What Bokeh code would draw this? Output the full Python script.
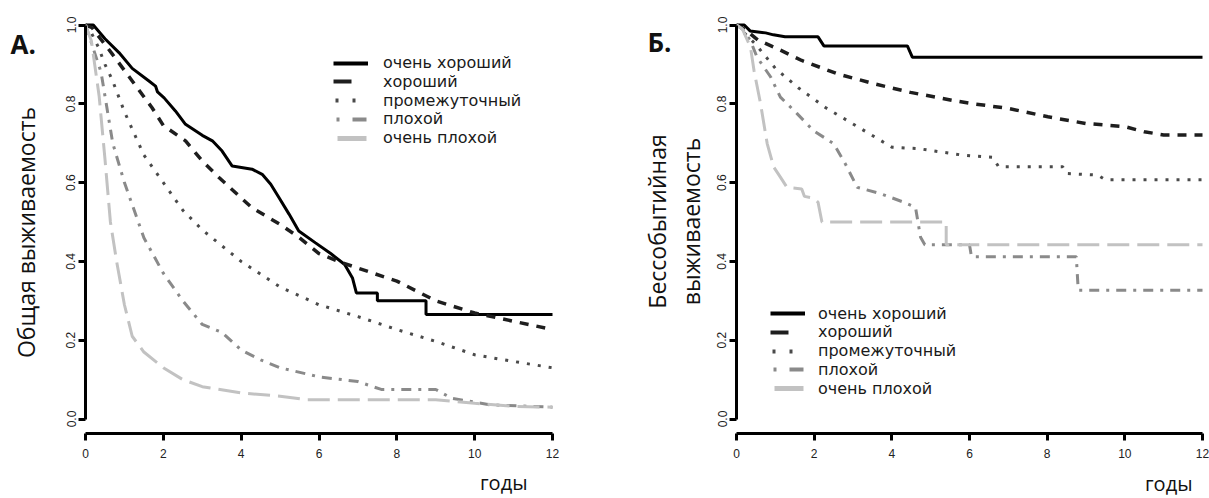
import math
from bokeh.plotting import figure
from bokeh.layouts import row
from bokeh.models import Range1d, FixedTicker, PrintfTickFormatter, Label, Legend, LegendItem
from bokeh.embed import file_html
from bokeh.resources import INLINE

# ---------------- data ----------------
groups = ["очень хороший", "хороший", "промежуточный", "плохой", "очень плохой"]
x_ticks = [0, 2, 4, 6, 8, 10, 12]
y_ticks = [0.0, 0.2, 0.4, 0.6, 0.8, 1.0]

# Panel A: overall survival
os_vgood_t = [0, 0.2, 0.5, 0.86, 1.2, 1.63, 1.8, 1.85, 2.02, 2.31, 2.57, 3.0, 3.26, 3.51, 3.77, 4.28, 4.54, 4.76,
              4.97, 5.23, 5.48, 5.91, 6.3, 6.66, 6.86, 6.96, 7.5, 7.5, 8.75, 8.75, 12.0]
os_vgood_s = [1.0, 1.0, 0.965, 0.93, 0.89, 0.858, 0.845, 0.83, 0.815, 0.782, 0.748, 0.72, 0.706, 0.68, 0.642, 0.634,
              0.621, 0.596, 0.562, 0.52, 0.477, 0.447, 0.42, 0.392, 0.358, 0.32, 0.32, 0.30, 0.30, 0.265, 0.265]
os_good_t = [0, 0.17, 0.69, 1.2, 1.71, 2.0, 2.57, 3.0, 3.43, 4.0, 4.28, 5.0, 5.5, 6.0, 6.5, 7.0, 8.0, 9.0, 10.0,
             11.0, 12.0]
os_good_s = [1.0, 0.993, 0.926, 0.858, 0.79, 0.745, 0.706, 0.655, 0.613, 0.561, 0.536, 0.494, 0.46, 0.42, 0.40,
             0.383, 0.35, 0.30, 0.269, 0.248, 0.227]
os_inter_t = [0, 0.15, 0.34, 0.5, 0.69, 1.0, 1.5, 2.0, 2.5, 3.0, 4.0, 5.0, 6.0, 7.0, 8.0, 9.0, 10.0, 11.0, 12.0]
os_inter_s = [1.0, 0.98, 0.942, 0.9, 0.86, 0.78, 0.67, 0.60, 0.53, 0.48, 0.40, 0.335, 0.29, 0.26, 0.227, 0.197,
              0.163, 0.146, 0.13]
os_poor_t = [0, 0.1, 0.4, 0.7, 1.0, 1.5, 2.0, 2.5, 3.0, 3.5, 4.0, 4.5, 5.0, 6.0, 7.0, 7.6, 9.0, 9.4, 10.4, 12.0]
os_poor_s = [1.0, 0.97, 0.88, 0.70, 0.60, 0.46, 0.37, 0.30, 0.24, 0.22, 0.175, 0.15, 0.13, 0.107, 0.095, 0.075,
             0.075, 0.053, 0.036, 0.03]
os_vpoor_t = [0, 0.15, 0.35, 0.5, 0.64, 0.8, 1.0, 1.2, 1.5, 2.0, 2.5, 3.0, 4.0, 5.0, 5.7, 9.0, 10.0, 11.0, 12.0]
os_vpoor_s = [1.0, 0.96, 0.82, 0.66, 0.5, 0.4, 0.29, 0.21, 0.17, 0.13, 0.1, 0.082, 0.066, 0.058, 0.049, 0.049,
              0.04, 0.032, 0.03]

# Panel B: event-free survival
efs_vgood_t = [0, 0.2, 0.35, 0.75, 0.95, 1.25, 2.1, 2.25, 4.4, 4.53, 12.0]
efs_vgood_s = [1.0, 1.0, 0.985, 0.98, 0.975, 0.97, 0.97, 0.947, 0.947, 0.918, 0.918]
efs_good_t = [0, 0.2, 0.55, 1.05, 1.68, 2.6, 3.54, 4.48, 5.6, 6.03, 7.02, 8.02, 9.0, 10.0, 10.5, 11.0, 12.0]
efs_good_s = [1.0, 0.99, 0.962, 0.94, 0.91, 0.876, 0.851, 0.829, 0.808, 0.801, 0.788, 0.767, 0.75, 0.742, 0.729,
              0.721, 0.721]
efs_inter_t = [0, 0.2, 0.5, 1.0, 1.6, 2.3, 3.15, 4.0, 4.7, 5.8, 6.6, 6.75, 8.4, 8.5, 9.3, 9.5, 12.0]
efs_inter_s = [1.0, 0.98, 0.95, 0.89, 0.84, 0.79, 0.74, 0.69, 0.686, 0.67, 0.664, 0.64, 0.64, 0.623, 0.619, 0.607,
               0.607]
efs_poor_t = [0, 0.15, 0.36, 0.53, 0.88, 1.13, 1.56, 1.98, 2.5, 2.8, 3.11, 3.71, 4.31, 4.61, 4.74, 4.85, 6.0, 6.05,
              8.75, 8.8, 12.0]
efs_poor_s = [1.0, 0.99, 0.96, 0.918, 0.868, 0.817, 0.775, 0.732, 0.699, 0.648, 0.588, 0.572, 0.55, 0.537, 0.461,
              0.442, 0.442, 0.412, 0.412, 0.327, 0.327]
efs_vpoor_t = [0, 0.15, 0.36, 0.45, 0.62, 0.79, 0.96, 1.13, 1.3, 1.68, 1.75, 2.0, 2.1, 2.2, 5.4, 5.4, 12.0]
efs_vpoor_s = [1.0, 0.99, 0.944, 0.885, 0.8, 0.699, 0.639, 0.614, 0.588, 0.584, 0.565, 0.56, 0.55, 0.5, 0.5, 0.442,
               0.442]

# ---------------- styles / layout ----------------
colors = ["#000000", "#1e1e1e", "#4a4a4a", "#8a8a8a", "#c2c2c2"]
dashes = ["solid", "9 8", "3 8", "10 7 3 7", "22 8"]
widths = [3, 3.5, 3, 3, 3]
leg_dashes = ["solid", "18 20", "3 14", "3 13 14 30", "29 20"]
leg_offsets = [0, 0, 15, 57, 45]
leg_widths = [4, 4, 4, 4, 5]

FONT = "Open Sans"
LEG_FONT = "DejaVu Sans"
TICK_FONT = "Liberation Sans"
H = 498
PX_Y = 394.0          # pixels per survival unit
Y_TOP = 24.5          # pixel row of survival 1.0
XAXIS_ROW = 433.0     # pixel row of the detached x axis
LEG_PITCH = 18.8      # legend row pitch in pixels
LEG_ITEM_H = 19.0     # rendered height of one legend item
NAN = float("nan")


def make_panel(width, x0_px, plot_w_px, series, legend_x, legend_first_row, legend_standoff):
    px_x = plot_w_px / 12.0
    x_rng = Range1d(-x0_px / px_x, (width - x0_px) / px_x)
    y_rng = Range1d(1 - (H - Y_TOP) / PX_Y, 1 + Y_TOP / PX_Y)
    p = figure(width=width, height=H, output_backend="svg", toolbar_location=None,
               x_range=x_rng, y_range=y_rng, min_border=0)
    p.outline_line_color = None
    p.grid.grid_line_color = None
    p.background_fill_color = "white"
    p.border_fill_color = "white"
    for ax, ticks, bounds in ((p.xaxis[0], x_ticks, (0, 12)), (p.yaxis[0], y_ticks, (0, 1))):
        ax.ticker = FixedTicker(ticks=ticks)
        ax.bounds = bounds
        ax.axis_line_width = 3
        ax.axis_line_color = "black"
        ax.major_tick_line_width = 3
        ax.major_tick_line_color = "black"
        ax.major_tick_out = 7
        ax.major_tick_in = 0
        ax.minor_tick_line_color = None
        ax.major_label_text_font = TICK_FONT
        ax.major_label_text_font_size = "12px"
        ax.major_label_text_color = "#222222"
    p.yaxis[0].fixed_location = 0
    p.xaxis[0].fixed_location = 1 - (XAXIS_ROW - Y_TOP) / PX_Y
    p.xaxis[0].major_label_standoff = 8
    p.yaxis[0].major_label_standoff = 3
    p.yaxis[0].major_label_orientation = "vertical"
    p.yaxis[0].formatter = PrintfTickFormatter(format="%.1f")

    for i, (t, s) in enumerate(series):
        p.line(t, s, line_color=colors[i], line_dash=dashes[i], line_width=widths[i])
        proxy = p.line([NAN], [NAN], line_color=colors[i], line_dash=leg_dashes[i],
                       line_dash_offset=leg_offsets[i], line_width=leg_widths[i])
        row_center = legend_first_row + i * LEG_PITCH
        leg = Legend(items=[LegendItem(label=groups[i], renderers=[proxy])],
                     location=(legend_x, H - row_center - LEG_ITEM_H / 2),
                     padding=0, margin=0, spacing=0,
                     glyph_width=35, glyph_height=18, label_height=18, label_standoff=legend_standoff,
                     label_text_font=LEG_FONT, label_text_font_size="16px", label_text_color="#1a1a1a",
                     border_line_color=None, background_fill_alpha=0)
        p.add_layout(leg)
    return p


def lab(p, x, y, text, size, angle=0.0, align="left", baseline="alphabetic", bold=False):
    p.add_layout(Label(x=x, y=y, x_units="screen", y_units="screen", text=text, angle=angle,
                       text_font=FONT, text_font_size=size, text_align=align, text_baseline=baseline,
                       text_font_style="bold" if bold else "normal", text_color="#111111"))


pa = make_panel(560, 85, 467,
                [(os_vgood_t, os_vgood_s), (os_good_t, os_good_s), (os_inter_t, os_inter_s),
                 (os_poor_t, os_poor_s), (os_vpoor_t, os_vpoor_s)],
                333, 62.5, 15)
lab(pa, 10, 455, "А.", "26px", bold=True)
lab(pa, 25, 266, "Общая выживаемость", "23px", angle=math.pi / 2, align="center", baseline="middle")
lab(pa, 527, 16, "годы", "20px", align="right")

pb = make_panel(649, 176, 466,
                [(efs_vgood_t, efs_vgood_s), (efs_good_t, efs_good_s), (efs_inter_t, efs_inter_s),
                 (efs_poor_t, efs_poor_s), (efs_vpoor_t, efs_vpoor_s)],
                210, 313, 13)
lab(pb, 87, 457, "Б.", "26px", bold=True)
lab(pb, 96, 277, "Бессобытийная", "23px", angle=math.pi / 2, align="center", baseline="middle")
lab(pb, 130, 277, "выживаемость", "23px", angle=math.pi / 2, align="center", baseline="middle")
lab(pb, 632, 15, "годы", "20px", align="right")

layout = row(pa, pb)
open("out.html", "w").write(file_html(layout, INLINE))
